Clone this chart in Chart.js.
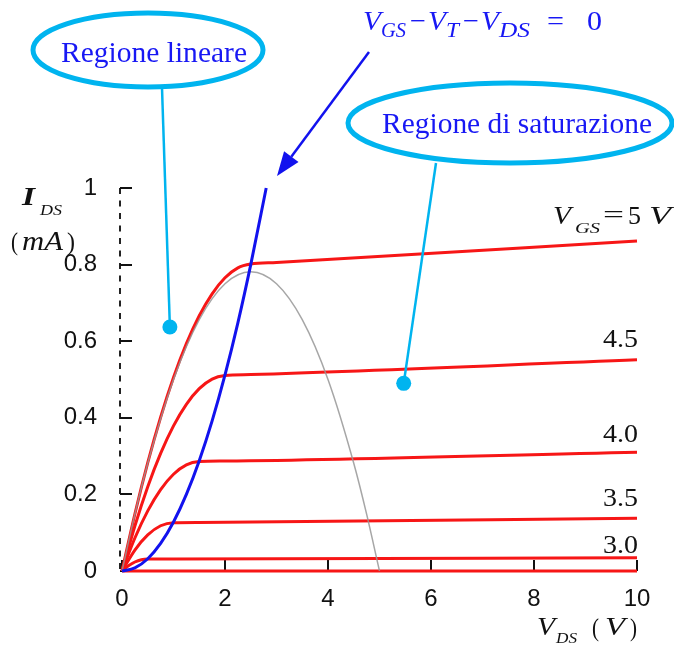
<!DOCTYPE html>
<html>
<head>
<meta charset="utf-8">
<script src="https://cdn.jsdelivr.net/npm/chart.js@4"></script>
<style>
  html, body { margin: 0; padding: 0; background: #ffffff; }
  canvas { display: block; }
</style>
</head>
<body>
<canvas id="chart" width="674" height="648"></canvas>
<script>
// Output characteristics I_DS(V_DS) of an n-channel MOSFET, one curve per V_GS.

// V_GS = 5 V
const vds50 = [0, 0.25, 0.5, 0.75, 1, 1.25, 1.5, 1.75, 2, 2.25, 2.5, 3, 10];
const ids50 = [0, 0.1488, 0.2827, 0.4015, 0.5052, 0.5935, 0.6664, 0.7237, 0.7655, 0.7914, 0.8014, 0.8054, 0.8617];
// V_GS = 4.5 V
const vds45 = [0, 0.25, 0.5, 0.75, 1, 1.25, 1.5, 1.75, 2, 2.5, 10];
const ids45 = [0, 0.1175, 0.2199, 0.3070, 0.3789, 0.4352, 0.4760, 0.5010, 0.5103, 0.5129, 0.5515];
// V_GS = 4.0 V
const vds40 = [0, 0.25, 0.5, 0.75, 1, 1.25, 1.5, 2, 10];
const ids40 = [0, 0.0862, 0.1571, 0.2126, 0.2526, 0.2770, 0.2856, 0.2870, 0.3102];
// V_GS = 3.5 V
const vds35 = [0, 0.25, 0.5, 0.75, 1, 1.5, 10];
const ids35 = [0, 0.0548, 0.0942, 0.1181, 0.1263, 0.1269, 0.1379];
// V_GS = 3.0 V
const vds30 = [0, 0.125, 0.25, 0.375, 0.5, 1, 10];
const ids30 = [0, 0.0137, 0.0235, 0.0294, 0.0314, 0.0316, 0.0345];
// V_GS at threshold: no current
const vdsOff = [0, 10];
const idsOff = [0, 0];

// Full triode parabola for V_GS = 5 V (grey)
const vdsParab = [0, 0.25, 0.5, 1, 1.5, 2, 2.5, 3, 3.5, 4, 4.5, 4.75, 5];
const idsParab = [0, 0.1484, 0.2813, 0.5, 0.6563, 0.75, 0.7813, 0.75, 0.6563, 0.5, 0.2813, 0.1484, 0];

// Edge of saturation, V_DS = V_GS - V_T (blue)
const vdsEdge = [0, 0.25, 0.5, 0.75, 1, 1.25, 1.5, 1.75, 2, 2.25, 2.5, 2.8];
const idsEdge = [0, 0.008, 0.032, 0.072, 0.128, 0.2, 0.288, 0.392, 0.512, 0.648, 0.8, 1.0];

// Axis ticks
const xTickValues = [0, 2, 4, 6, 8, 10];
const xTickLabels = ['0', '2', '4', '6', '8', '10'];
const yTickValues = [0, 0.2, 0.4, 0.6, 0.8, 1];
const yTickLabels = ['0', '0.2', '0.4', '0.6', '0.8', '1'];

// Curve labels at the right end
const gateLabels = ['4.5', '4.0', '3.5', '3.0'];

const RED = '#f71616';
const BLUE = '#1212ee';
const CYAN = '#00b4ef';
const TEXT_BLUE = '#1818f4';
const SERIF = "'Liberation Serif', 'Times New Roman', serif";

function pts(xs, ys) { return xs.map((x, i) => ({ x: x, y: ys[i] })); }

function redSet(xs, ys) {
  return { data: pts(xs, ys), borderColor: RED, borderWidth: 3, clip: 8 };
}

// Text piece, optionally squeezed/stretched to a given width
function piece(ctx, s, x, base, font, color, width, align) {
  ctx.save();
  ctx.font = font;
  ctx.fillStyle = color;
  ctx.textBaseline = 'alphabetic';
  const m = ctx.measureText(s).width;
  const sx = width ? width / m : 1;
  let left = x;
  if (align === 'center') left = x - (m * sx) / 2;
  if (align === 'right') left = x - m * sx;
  ctx.translate(left, base);
  ctx.scale(sx, 1);
  ctx.textAlign = 'left';
  ctx.fillText(s, 0, 0);
  ctx.restore();
}

function ellipse(ctx, cx, cy, rx, ry) {
  ctx.save();
  ctx.strokeStyle = CYAN;
  ctx.lineWidth = 5;
  ctx.beginPath();
  ctx.ellipse(cx, cy, rx, ry, 0, 0, Math.PI * 2);
  ctx.stroke();
  ctx.restore();
}

function leader(ctx, x0, y0, x1, y1) {
  ctx.save();
  ctx.strokeStyle = CYAN;
  ctx.fillStyle = CYAN;
  ctx.lineWidth = 2.5;
  ctx.beginPath();
  ctx.moveTo(x0, y0);
  ctx.lineTo(x1, y1);
  ctx.stroke();
  ctx.beginPath();
  ctx.arc(x1, y1, 7.5, 0, Math.PI * 2);
  ctx.fill();
  ctx.restore();
}

const axisDecor = {
  id: 'axisDecor',
  beforeDatasetsDraw(chart) {
    const ctx = chart.ctx;
    const xs = chart.scales.x, ys = chart.scales.y;
    const left = xs.getPixelForValue(0);
    const bottom = ys.getPixelForValue(0);
    ctx.save();
    // dashed vertical axis
    ctx.strokeStyle = '#222';
    ctx.lineWidth = 2;
    ctx.setLineDash([6, 6.5]);
    ctx.beginPath();
    ctx.moveTo(left - 2, ys.getPixelForValue(1));
    ctx.lineTo(left - 2, bottom);
    ctx.stroke();
    ctx.setLineDash([]);
    // inward ticks
    ctx.strokeStyle = '#111';
    ctx.lineWidth = 2;
    yTickValues.forEach(v => {
      const y = Math.round(ys.getPixelForValue(v));
      ctx.beginPath();
      ctx.moveTo(left - 2, y);
      ctx.lineTo(left + 10, y);
      ctx.stroke();
    });
    xTickValues.forEach(v => {
      const x = Math.round(xs.getPixelForValue(v));
      ctx.beginPath();
      ctx.moveTo(x, bottom);
      ctx.lineTo(x, bottom - 11);
      ctx.stroke();
    });
    ctx.restore();
  },
  afterDatasetsDraw(chart) {
    const ctx = chart.ctx;
    const xs = chart.scales.x, ys = chart.scales.y;

    // region callouts
    ellipse(ctx, 148, 50, 115, 37);
    piece(ctx, 'Regione lineare', 154, 62, '29px ' + SERIF, TEXT_BLUE, 186, 'center');
    leader(ctx, 162, 88, xs.getPixelForValue(0.93), ys.getPixelForValue(0.637));

    ellipse(ctx, 510, 123, 162, 40);
    piece(ctx, 'Regione di saturazione', 517, 133, '29px ' + SERIF, TEXT_BLUE, 270, 'center');
    leader(ctx, 436, 163, xs.getPixelForValue(5.47), ys.getPixelForValue(0.49));

    // saturation-edge equation
    const eqI = 'italic 28px ' + SERIF, eqS = 'italic 21px ' + SERIF, eqN = '28px ' + SERIF;
    piece(ctx, 'V', 363, 30, eqI, TEXT_BLUE, 18);
    piece(ctx, 'GS', 381, 37, eqS, TEXT_BLUE, 25);
    piece(ctx, '\u2212', 410, 30, eqN, TEXT_BLUE, 16);
    piece(ctx, 'V', 428, 30, eqI, TEXT_BLUE, 18);
    piece(ctx, 'T', 446, 37, eqS, TEXT_BLUE, 13);
    piece(ctx, '\u2212', 463, 30, eqN, TEXT_BLUE, 16);
    piece(ctx, 'V', 481, 30, eqI, TEXT_BLUE, 18);
    piece(ctx, 'DS', 499, 37, eqS, TEXT_BLUE, 31);
    piece(ctx, '=', 547, 30, eqN, TEXT_BLUE, 17);
    piece(ctx, '0', 587, 30, eqN, TEXT_BLUE, 15);

    // arrow pointing at the top of the blue curve
    ctx.save();
    ctx.strokeStyle = BLUE;
    ctx.fillStyle = BLUE;
    ctx.lineWidth = 2.5;
    const ax0 = 369, ay0 = 52, ax1 = 277, ay1 = 176;
    const ang = Math.atan2(ay1 - ay0, ax1 - ax0);
    const hl = 24, hw = 9;
    const bx = ax1 - hl * Math.cos(ang), by = ay1 - hl * Math.sin(ang);
    ctx.beginPath();
    ctx.moveTo(ax0, ay0);
    ctx.lineTo(bx, by);
    ctx.stroke();
    ctx.beginPath();
    ctx.moveTo(ax1, ay1);
    ctx.lineTo(bx + hw * Math.sin(ang), by - hw * Math.cos(ang));
    ctx.lineTo(bx - hw * Math.sin(ang), by + hw * Math.cos(ang));
    ctx.closePath();
    ctx.fill();
    ctx.restore();

    // axis titles
    const K = '#111';
    piece(ctx, 'I', 22, 205, 'bold italic 26px ' + SERIF, K, 13);
    piece(ctx, 'DS', 40, 215, 'italic 14px ' + SERIF, K, 22);
    piece(ctx, '(', 11, 250, '26px ' + SERIF, K, 7);
    piece(ctx, 'mA', 22, 250, 'italic 27px ' + SERIF, K, 41);
    piece(ctx, ')', 67, 250, '26px ' + SERIF, K, 8);

    piece(ctx, 'V', 537, 635, 'italic 25px ' + SERIF, K, 18);
    piece(ctx, 'DS', 556, 643, 'italic 15px ' + SERIF, K, 21);
    piece(ctx, '(', 592, 636, '26px ' + SERIF, K, 7);
    piece(ctx, 'V', 605, 635, 'italic 25px ' + SERIF, K, 20);
    piece(ctx, ')', 630, 636, '26px ' + SERIF, K, 7);

    // gate-voltage labels
    piece(ctx, 'V', 553, 224, 'italic 25px ' + SERIF, K, 18);
    piece(ctx, 'GS', 575, 233, 'italic 15px ' + SERIF, K, 25);
    piece(ctx, '=', 603, 223, '25px ' + SERIF, K, 21);
    piece(ctx, '5', 628, 224, '25px ' + SERIF, K, 13);
    piece(ctx, 'V', 649, 224, 'italic 25px ' + SERIF, K, 22);

    const labelBase = [347, 442, 506, 553];
    gateLabels.forEach((s, i) => {
      piece(ctx, s, 638, labelBase[i], '25px ' + SERIF, K, 35, 'right');
    });
  }
};

new Chart(document.getElementById('chart'), {
  type: 'line',
  data: {
    datasets: [
      { data: pts(vdsEdge, idsEdge), borderColor: BLUE, borderWidth: 3, clip: 8 },
      { data: pts(vdsParab, idsParab), borderColor: 'rgba(150,150,150,0.85)', borderWidth: 1.5, clip: 8 },
      redSet(vds50, ids50),
      redSet(vds45, ids45),
      redSet(vds40, ids40),
      redSet(vds35, ids35),
      redSet(vds30, ids30),
      redSet(vdsOff, idsOff)
    ]
  },
  options: {
    responsive: false,
    animation: false,
    devicePixelRatio: 1,
    layout: { padding: { top: 188, right: 37, left: 0, bottom: 0 } },
    elements: {
      point: { radius: 0, hoverRadius: 0 },
      line: { cubicInterpolationMode: 'monotone', fill: false }
    },
    plugins: { legend: { display: false }, tooltip: { enabled: false } },
    scales: {
      x: {
        type: 'linear', min: 0, max: 10,
        grid: { display: false }, border: { display: false },
        ticks: {
          stepSize: 2, padding: 6, color: '#111',
          font: { family: "'Liberation Sans', Arial, sans-serif", size: 24 },
          maxRotation: 0,
          callback: (v, i) => xTickLabels[i]
        },
        afterFit: s => { s.height = 77; }
      },
      y: {
        type: 'linear', min: 0, max: 1,
        grid: { display: false }, border: { display: false },
        ticks: {
          stepSize: 0.2, padding: 17, color: '#111',
          font: { family: "'Liberation Sans', Arial, sans-serif", size: 24 },
          callback: (v, i) => yTickLabels[i]
        },
        afterFit: s => { s.width = 122; }
      }
    }
  },
  plugins: [axisDecor]
});
</script>
</body>
</html>
